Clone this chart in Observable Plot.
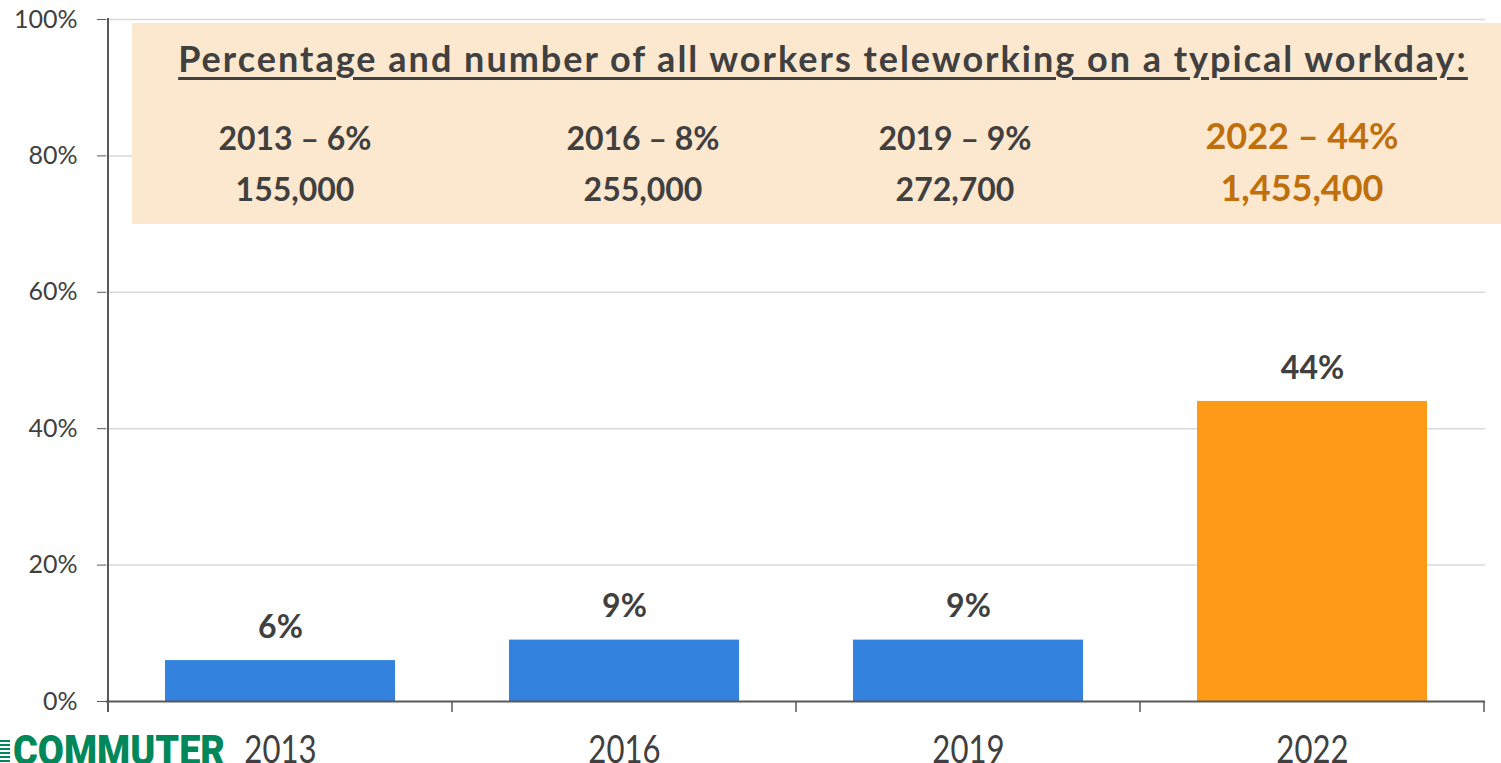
<!DOCTYPE html>
<html>
<head>
<meta charset="utf-8">
<script src="https://cdn.jsdelivr.net/npm/d3@7"></script>
<script src="https://cdn.jsdelivr.net/npm/@observablehq/plot@0.6"></script>
<style>
  html, body { margin: 0; padding: 0; background: #fff; }
  #wrap { position: relative; width: 1501px; height: 763px; overflow: hidden; font-family: Lato, "Open Sans", sans-serif; }
  #box { position: absolute; left: 132px; top: 23px; width: 1369px; height: 201px; background: #FCE7CF; }
  .t { position: absolute; white-space: nowrap; line-height: 1; transform: translateX(-50%); font-weight: bold; color: #404040; }
  .title { font-size: 36px; letter-spacing: 2px; text-decoration: underline; text-decoration-thickness: 3px; text-underline-offset: 5px; }
  .row { font-size: 32px; }
  .hl { color: #BF6F0B; font-size: 36px; }
  #logo { position: absolute; left: 13px; top: 730px; font-family: Roboto, Lato, sans-serif; font-weight: 900; font-size: 42px; line-height: 1; color: #00875A; white-space: nowrap; transform-origin: 0 0; }
  #stripes { position: absolute; left: 0; top: 740px; width: 10px; height: 23px; background: repeating-linear-gradient(to bottom, #00875A 0 2px, transparent 2px 4px); }
</style>
</head>
<body>
<div id="wrap"></div>
<script>
// ---- data ----
const years = ["2013", "2016", "2019", "2022"];
const shares = [6, 9, 9, 44];
const boxShares = [6, 8, 9, 44];
const boxWorkers = ["155,000", "255,000", "272,700", "1,455,400"];
const highlightYear = "2022";
const yTicks = [0, 20, 40, 60, 80, 100];
const titleText = "Percentage and number of all workers teleworking on a typical workday:";
const logoText = "COMMUTER";

const blue = "#3282DE";
const orange = "#FD9A17";
const data = years.map((y, i) => ({year: y, share: shares[i]}));

const plot = Plot.plot({
  width: 1501,
  height: 763,
  marginLeft: 106,
  marginRight: 16,
  marginTop: 19,
  marginBottom: 62,
  style: {fontFamily: "Lato, 'Open Sans', sans-serif", color: "#404040", background: "transparent", overflow: "visible"},
  x: {domain: years, padding: 0, label: null},
  y: {domain: [0, 100], label: null},
  marks: [
    Plot.ruleY(yTicks.filter(d => d > 0), {stroke: "#D9D9D9", strokeWidth: 1.5}),
    Plot.barY(data, {x: "year", y: "share", fill: d => d.year === highlightYear ? orange : blue, insetLeft: 57, insetRight: 57}),
    Plot.ruleY([0], {stroke: "#595959", strokeWidth: 2}),
    Plot.text(data, {x: "year", y: "share", text: d => d.share + "%", dy: -33, fontSize: 32, fontWeight: "bold", fill: "#404040"}),
    Plot.axisY({ticks: yTicks, tickFormat: d => d + "%", tickSize: 9, tickPadding: 20, fontSize: 25, stroke: "#595959", fill: "#404040", label: null}),
    Plot.axisX({tickSize: 0, tickPadding: 35, fontSize: 38, fill: "#404040", label: null, className: "xlab"})
  ]
});

const wrap = document.getElementById("wrap");
wrap.appendChild(plot);

// narrow the year labels (Calibri-like proportions)
d3.select(plot).selectAll(".xlab text").each(function() {
  const t = this.getAttribute("transform") || "";
  this.setAttribute("transform", t + " scale(0.82,1)");
});

// axis line and category boundary ticks from the plot's own scales
const xs = plot.scale("x"), ys = plot.scale("y");
const y0 = ys.apply(0), y100 = ys.apply(100);
const starts = years.map(y => xs.apply(y));
const bounds = starts.concat([starts[starts.length - 1] + xs.bandwidth]);
const g = d3.select(plot).append("g").attr("stroke", "#595959");
g.append("line").attr("x1", bounds[0]).attr("x2", bounds[0]).attr("y1", y100 - 1).attr("y2", y0 + 11).attr("stroke-width", 2);
g.selectAll("line.b").data(bounds.slice(1)).join("line").attr("class", "b")
  .attr("x1", d => d).attr("x2", d => d).attr("y1", y0).attr("y2", y0 + 11).attr("stroke-width", 1.5);

// annotation box
const box = document.createElement("div");
box.id = "box";
wrap.appendChild(box);
function addText(cls, txt, cx, top) {
  const d = document.createElement("div");
  d.className = "t " + cls;
  d.textContent = txt;
  d.style.left = cx + "px";
  d.style.top = top + "px";
  wrap.appendChild(d);
}
addText("title", titleText, 823, 40);
const colCenters = [295, 643, 955, 1302];
years.forEach((y, i) => {
  const hl = y === highlightYear;
  addText(hl ? "hl" : "row", `${y} – ${boxShares[i]}%`, colCenters[i], hl ? 117 : 122);
  addText(hl ? "hl" : "row", boxWorkers[i], colCenters[i], hl ? 169 : 173);
});

const stripes = document.createElement("div");
stripes.id = "stripes";
wrap.appendChild(stripes);
const logo = document.createElement("div");
logo.id = "logo";
logo.textContent = logoText;
wrap.appendChild(logo);
const lw = logo.getBoundingClientRect().width;
logo.style.transform = `scaleX(${212 / lw})`;
</script>
</body>
</html>
